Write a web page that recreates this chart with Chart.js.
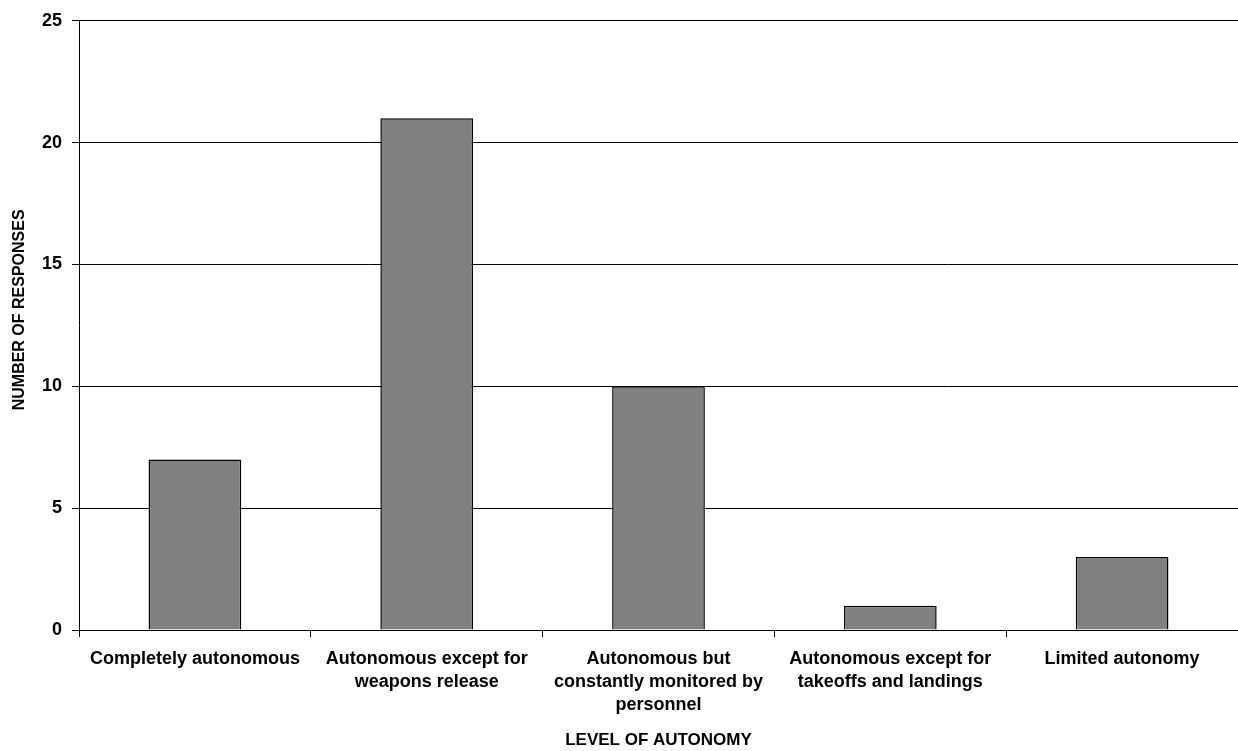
<!DOCTYPE html>
<html>
<head>
<meta charset="utf-8">
<script src="https://cdn.jsdelivr.net/npm/chart.js@4.4.1/dist/chart.umd.min.js"></script>
<style>
  body { margin: 0; background: #fff; }
  #wrap { width: 1238px; height: 751px; }
</style>
</head>
<body>
<div id="wrap"><canvas id="autonomyChart"></canvas></div>
<script>
// Categories (multi-line labels) and response counts
var levels = [
    'Completely autonomous',
    ['Autonomous except for', 'weapons release'],
    ['Autonomous but', 'constantly monitored by', 'personnel'],
    ['Autonomous except for', 'takeoffs and landings'],
    'Limited autonomy'
];
var responses = [7, 21, 10, 1, 3];
var yTicks = [0, 5, 10, 15, 20, 25];

var fontFamily = '"Liberation Sans", Arial, sans-serif';

var ctx = document.getElementById('autonomyChart').getContext('2d');

new Chart(ctx, {
    type: 'bar',
    data: {
        labels: levels,
        datasets: [{
            data: responses,
            backgroundColor: '#808080',
            borderColor: '#000',
            borderWidth: 1.5,
            barPercentage: 0.4,
            categoryPercentage: 1
        }]
    },
    options: {
        responsive: true,
        maintainAspectRatio: false,
        animation: false,
        layout: { padding: { top: 19, right: 0, left: 0, bottom: 0 } },
        plugins: {
            legend: { display: false },
            tooltip: { enabled: false }
        },
        scales: {
            x: {
                grid: {
                    offset: true,
                    drawOnChartArea: false,
                    tickLength: 7,
                    color: '#000'
                },
                border: { color: '#000', width: 1 },
                ticks: {
                    color: '#000',
                    maxRotation: 0,
                    autoSkip: false,
                    padding: 10,
                    font: { family: fontFamily, size: 18, weight: 'bold', lineHeight: 1.3 }
                },
                title: {
                    display: true,
                    text: 'LEVEL OF AUTONOMY',
                    color: '#000',
                    padding: { top: 4, bottom: 0 },
                    font: { family: fontFamily, size: 17, weight: 'bold', lineHeight: 1.2 }
                },
                afterFit: function (scale) { scale.height = 121; }
            },
            y: {
                min: 0,
                max: 25,
                afterBuildTicks: function (scale) {
                    scale.ticks = yTicks.map(function (v) { return { value: v }; });
                },
                grid: {
                    color: '#000',
                    lineWidth: 1,
                    tickLength: 7
                },
                border: { color: '#000', width: 1 },
                ticks: {
                    color: '#000',
                    padding: 10,
                    font: { family: fontFamily, size: 18, weight: 'bold' }
                },
                title: {
                    display: true,
                    // leading spaces nudge the title upward like the original
                    text: '       NUMBER OF RESPONSES',
                    color: '#000',
                    padding: { top: 10, bottom: 0 },
                    font: { family: fontFamily, size: 16, weight: 'bold', lineHeight: 1.2 }
                },
                afterFit: function (scale) { scale.width = 79; }
            }
        }
    }
});
</script>
</body>
</html>
